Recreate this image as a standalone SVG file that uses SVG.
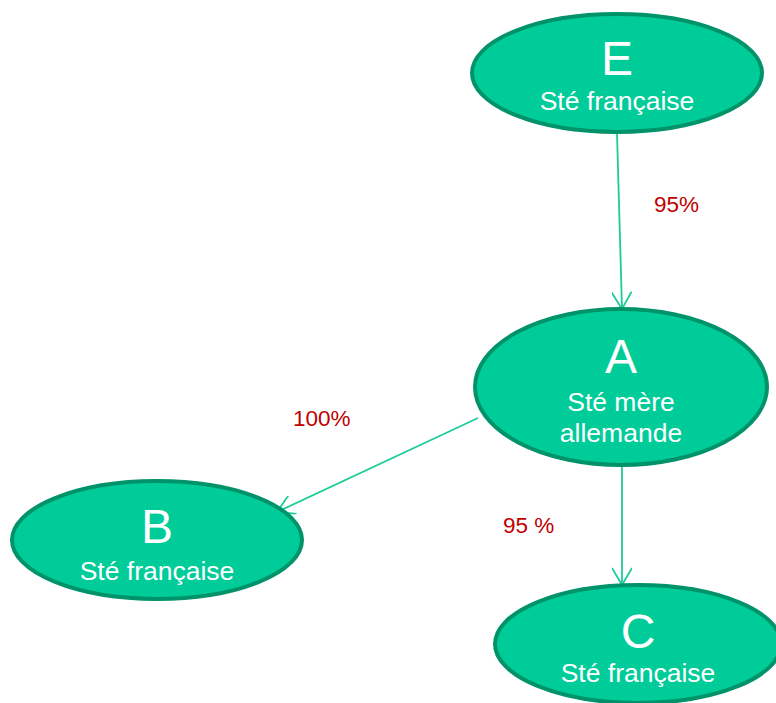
<svg xmlns="http://www.w3.org/2000/svg" width="776" height="703" viewBox="0 0 776 703">
<style>
.node{fill:#00cc99;stroke:#00936a;stroke-width:4}
.big{font-family:"Liberation Sans",Arial,sans-serif;font-size:48px;fill:#ffffff;text-anchor:middle}
.sub{font-family:"Liberation Sans",Arial,sans-serif;font-size:26.5px;fill:#ffffff;text-anchor:middle}
.lbl{font-family:"Liberation Sans",Arial,sans-serif;font-size:22.5px;fill:#c00000}
.edge{stroke:#1ccc99;stroke-width:1.8;fill:none}
</style>
<defs>
<marker id="arr" viewBox="0 0 20 20" refX="18" refY="10" markerWidth="20" markerHeight="20" markerUnits="userSpaceOnUse" orient="auto">
<path d="M1,0 L18,10 L1,20" fill="none" stroke="#1ccc99" stroke-width="1.8"/>
</marker>
</defs>
<rect width="776" height="703" fill="#ffffff"/>
<g id="connectors">
<line class="edge" x1="617" y1="133" x2="622" y2="309" marker-end="url(#arr)"/>
<line class="edge" x1="478" y1="418" x2="277" y2="512" marker-end="url(#arr)"/>
<line class="edge" x1="622" y1="466" x2="622" y2="585" marker-end="url(#arr)"/>
<text class="lbl" x="654" y="212">95%</text>
<text class="lbl" x="293" y="426">100%</text>
<text class="lbl" x="503" y="533">95 %</text>
</g>
<g id="node-E">
<ellipse class="node" cx="617" cy="73" rx="145" ry="59"/>
<text class="big" x="617" y="75">E</text>
<text class="sub" x="617" y="110">Sté française</text>
</g>
<g id="node-A">
<ellipse class="node" cx="621" cy="387" rx="146" ry="78"/>
<text class="big" x="621" y="373">A</text>
<text class="sub" x="621" y="411">Sté mère</text>
<text class="sub" x="621" y="442">allemande</text>
</g>
<g id="node-B">
<ellipse class="node" cx="157" cy="540" rx="145" ry="59"/>
<text class="big" x="157" y="543">B</text>
<text class="sub" x="157" y="580">Sté française</text>
</g>
<g id="node-C">
<ellipse class="node" cx="638" cy="644" rx="143" ry="59"/>
<text class="big" x="638" y="648">C</text>
<text class="sub" x="638" y="682">Sté française</text>
</g>
</svg>
